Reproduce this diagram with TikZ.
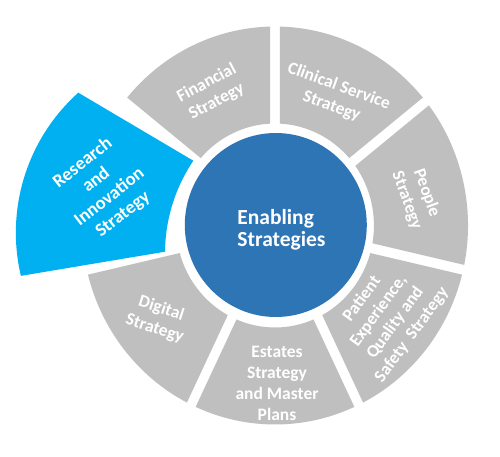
\documentclass[tikz,border=0pt]{standalone}
\usepackage{fontspec}
\setmainfont{Carlito}
\definecolor{seggray}{HTML}{BFBFBF}
\definecolor{segblue}{HTML}{00B0F0}
\definecolor{coreblue}{HTML}{2E75B6}
\newcommand{\dOut}{1.44}
\newcommand{\dIn}{2.81}
\newcommand{\rOut}{199}
\newcommand{\rIn}{102}
\newcommand{\ringseg}[2]{%
  \fill[seggray] ({#1+\dOut}:\rOut) arc[start angle={#1+\dOut}, end angle={#2-\dOut}, radius=\rOut]
    -- ({#2-\dIn}:\rIn) arc[start angle={#2-\dIn}, end angle={#1+\dIn}, radius=\rIn] -- cycle;}
\begin{document}
\begin{tikzpicture}[x=1pt,y=1pt,
  lbl/.style={text=white, inner sep=0pt, align=center, font=\bfseries\fontsize{17.5}{21}\selectfont},
  corelbl/.style={text=white, inner sep=0pt, align=left, font=\bfseries\fontsize{21.5}{21.5}\selectfont}]
\useasboundingbox (0,0) rectangle (500,456);
\fill[white] (0,0) rectangle (500,456);
% gray ring segments
\begin{scope}[shift={(275,230.5)}, xscale=0.97]
  \ringseg{90}{141.429}
  \ringseg{38.571}{90}
  \ringseg{-12.857}{38.571}
  \ringseg{-64.286}{-12.857}
  \ringseg{-115.714}{-64.286}
  \ringseg{-167.143}{-115.714}
\end{scope}
% highlighted segment
\fill[segblue] (193.3,295.3) -- (78.3,363.3)
  arc[start angle=131.9, end angle=193.3, radius=188]
  -- (165,204.3) arc[start angle=179.4, end angle=146.05, radius=165.9] -- cycle;
% central circle
\fill[coreblue] (275.8,231) ellipse [x radius=91, y radius=92];
\node[corelbl] (core) at (281.5,226) {Enabling\\Strategies};
% labels
\node[lbl, rotate=38, font=\bfseries\fontsize{18.5}{21.7}\selectfont] (res) at (102.9,267.3) {Research\\and\\Innovation\\Strategy};
\node[lbl, rotate=28] (fin) at (211.7,363.7) {Financial\\Strategy};
\node[lbl, rotate=-20] (cli) at (335.3,359.8) {Clinical Service\\Strategy};
\node[lbl, rotate=-70] (peo) at (416.7,259.3) {People\\Strategy};
\node[lbl, rotate=54, font=\bfseries\fontsize{17.5}{20.5}\selectfont] (pat) at (387,139) {Patient\\Experience,\\Quality and\\Safety\ \ Strategy};
\node[lbl] (est) at (277,73) {Estates\\Strategy\\and Master\\Plans};
\node[lbl, rotate=-18] (dig) at (158,137.3) {Digital\\Strategy};
\end{tikzpicture}
\end{document}
